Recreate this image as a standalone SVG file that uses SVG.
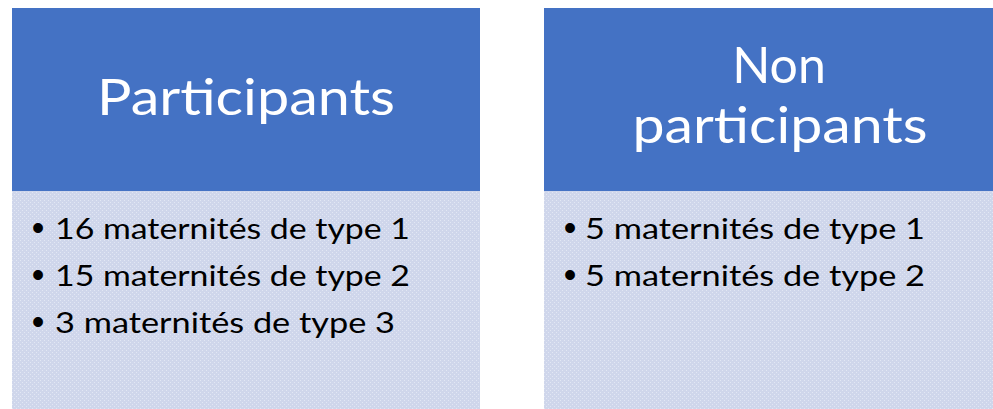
<svg xmlns="http://www.w3.org/2000/svg" width="993" height="409" viewBox="0 0 993 409">
<style>
.hdr{fill:#4472C4}
.body{fill:url(#dots)}
.ht{font-family:Lato,"Open Sans",sans-serif;font-size:50px;fill:#FFFFFF;text-anchor:middle}
.bt{font-family:Lato,"Open Sans",sans-serif;font-size:28px;fill:#000000}
.bu{font-family:"Liberation Sans",sans-serif;font-size:36px;fill:#000000;text-anchor:middle}
</style>
<defs>
<pattern id="dots" width="4" height="4" patternUnits="userSpaceOnUse">
<rect width="4" height="4" fill="#CFD6EB"/>
<rect x="0" y="0" width="1" height="1" fill="#E2E7F4"/>
<rect x="2" y="2" width="1" height="1" fill="#E2E7F4"/>
</pattern>
</defs>
<g id="participants">
<rect class="hdr" x="12" y="8" width="468" height="183"/>
<rect class="body" x="12" y="191" width="468" height="218"/>
<text class="ht" x="246" y="115" textLength="298" lengthAdjust="spacingAndGlyphs">Participants</text>
<text class="bu" x="38" y="240">•</text>
<text class="bt" x="55" y="239" textLength="355" lengthAdjust="spacingAndGlyphs">16 maternités de type 1</text>
<text class="bu" x="38" y="287">•</text>
<text class="bt" x="55" y="286" textLength="355" lengthAdjust="spacingAndGlyphs">15 maternités de type 2</text>
<text class="bu" x="38" y="334">•</text>
<text class="bt" x="55" y="333" textLength="340" lengthAdjust="spacingAndGlyphs">3 maternités de type 3</text>
</g>
<g id="non-participants">
<rect class="hdr" x="544" y="8" width="468" height="183"/>
<rect class="body" x="544" y="191" width="468" height="218"/>
<text class="ht"><tspan x="779" y="83">Non</tspan><tspan x="780" y="143" textLength="295" lengthAdjust="spacingAndGlyphs">participants</tspan></text>
<text class="bu" x="570" y="240">•</text>
<text class="bt" x="585" y="239" textLength="340" lengthAdjust="spacingAndGlyphs">5 maternités de type 1</text>
<text class="bu" x="570" y="287">•</text>
<text class="bt" x="585" y="286" textLength="340" lengthAdjust="spacingAndGlyphs">5 maternités de type 2</text>
</g>
<g id="connectors"></g>
</svg>
